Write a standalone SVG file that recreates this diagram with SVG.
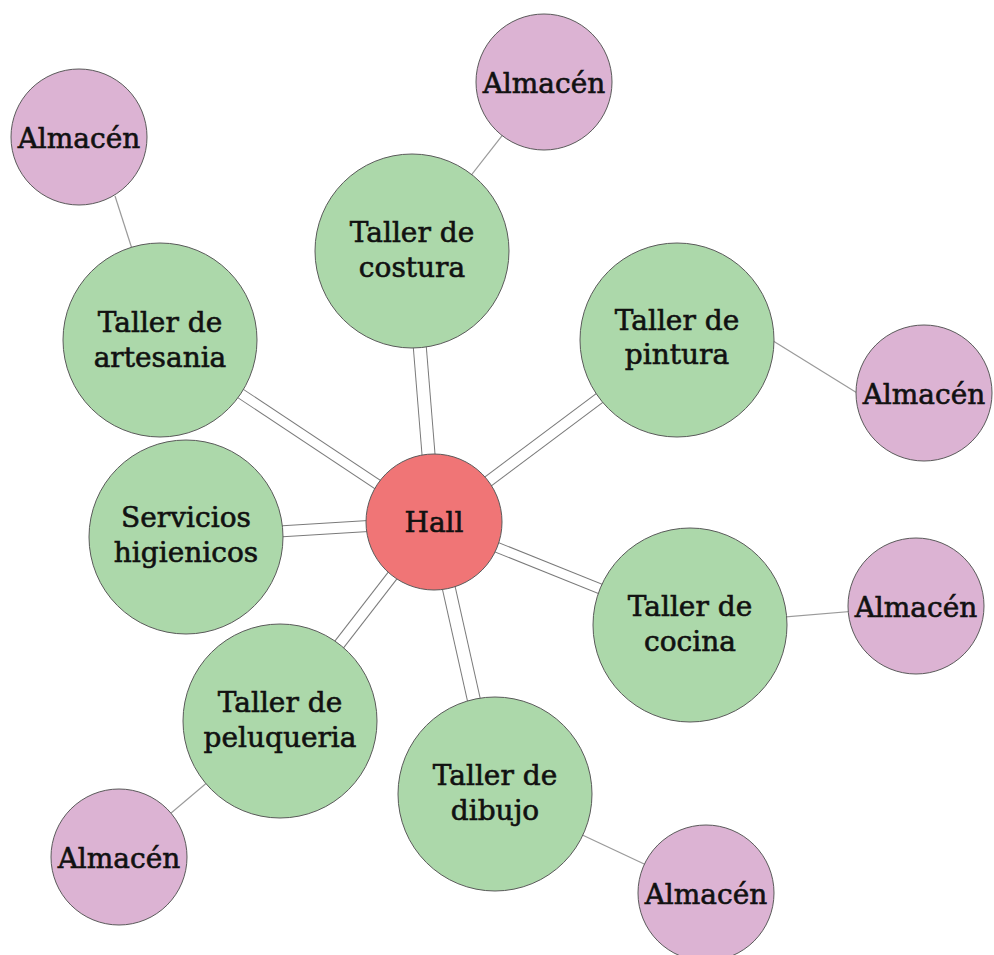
<svg xmlns="http://www.w3.org/2000/svg" width="994" height="955" viewBox="0 0 994 955">
<style>
  .bg { fill: #ffffff; }
  .hall { fill: #f07576; stroke: #5a5a5a; stroke-width: 1; }
  .room { fill: #acd8aa; stroke: #5a5a5a; stroke-width: 1; }
  .store { fill: #dcb3d3; stroke: #5a5a5a; stroke-width: 1; }
  text { font-family: "DejaVu Serif", "Liberation Serif", serif; font-size: 28px; fill: #111; stroke: #111; stroke-width: 0.6; text-anchor: middle; }
  .dbl-out { stroke: #7a7a7a; stroke-width: 12; fill: none; }
  .dbl-in { stroke: #ffffff; stroke-width: 10; fill: none; }
  .single { stroke: #9a9a9a; stroke-width: 1.2; fill: none; }
</style>
<rect class="bg" x="0" y="0" width="994" height="955"/>
<g id="connectors">
  <!-- hall to rooms: double lines -->
  <line class="dbl-out" x1="434" y1="522" x2="412" y2="251" style="stroke-width:14"/>
  <line class="dbl-in" x1="434" y1="522" x2="412" y2="251" style="stroke-width:12"/>
  <line class="dbl-out" x1="434" y1="522" x2="160" y2="340" style="stroke-width:11"/>
  <line class="dbl-in" x1="434" y1="522" x2="160" y2="340" style="stroke-width:9"/>
  <line class="dbl-out" x1="434" y1="522" x2="677" y2="340"/>
  <line class="dbl-in" x1="434" y1="522" x2="677" y2="340"/>
  <line class="dbl-out" x1="434" y1="522" x2="186" y2="537"/>
  <line class="dbl-in" x1="434" y1="522" x2="186" y2="537"/>
  <line class="dbl-out" x1="434" y1="522" x2="690" y2="625" style="stroke-width:11"/>
  <line class="dbl-in" x1="434" y1="522" x2="690" y2="625" style="stroke-width:9"/>
  <line class="dbl-out" x1="434" y1="522" x2="280" y2="721"/>
  <line class="dbl-in" x1="434" y1="522" x2="280" y2="721"/>
  <line class="dbl-out" x1="434" y1="522" x2="495" y2="794" style="stroke-width:14"/>
  <line class="dbl-in" x1="434" y1="522" x2="495" y2="794" style="stroke-width:12"/>
  <!-- rooms to stores: single lines -->
  <line class="single" x1="412" y1="251" x2="544" y2="82"/>
  <line class="single" x1="133" y1="252" x2="115" y2="196"/>
  <line class="single" x1="770" y1="339" x2="862" y2="396"/>
  <line class="single" x1="690" y1="625" x2="916" y2="606"/>
  <line class="single" x1="280" y1="721" x2="119" y2="857"/>
  <line class="single" x1="495" y1="794" x2="706" y2="893"/>
</g>
<g id="hall">
  <circle class="hall" cx="434" cy="522" r="68"/>
  <text x="434" y="532">Hall</text>
</g>
<g id="costura">
  <circle class="room" cx="412" cy="251" r="97"/>
  <text x="412" y="242">Taller de</text>
  <text x="412" y="277">costura</text>
</g>
<g id="artesania">
  <circle class="room" cx="160" cy="340" r="97"/>
  <text x="160" y="332">Taller de</text>
  <text x="160" y="367">artesania</text>
</g>
<g id="pintura">
  <circle class="room" cx="677" cy="340" r="97"/>
  <text x="677" y="330">Taller de</text>
  <text x="677" y="364">pintura</text>
</g>
<g id="servicios">
  <circle class="room" cx="186" cy="537" r="97"/>
  <text x="186" y="527">Servicios</text>
  <text x="186" y="562">higienicos</text>
</g>
<g id="cocina">
  <circle class="room" cx="690" cy="625" r="97"/>
  <text x="690" y="616">Taller de</text>
  <text x="690" y="651">cocina</text>
</g>
<g id="peluqueria">
  <circle class="room" cx="280" cy="721" r="97"/>
  <text x="280" y="712">Taller de</text>
  <text x="280" y="747">peluqueria</text>
</g>
<g id="dibujo">
  <circle class="room" cx="495" cy="794" r="97"/>
  <text x="495" y="785">Taller de</text>
  <text x="495" y="820">dibujo</text>
</g>
<g id="almacen-costura">
  <circle class="store" cx="544" cy="82" r="68"/>
  <text x="544" y="93">Almacén</text>
</g>
<g id="almacen-artesania">
  <circle class="store" cx="79" cy="137" r="68"/>
  <text x="79" y="148">Almacén</text>
</g>
<g id="almacen-pintura">
  <circle class="store" cx="924" cy="393" r="68"/>
  <text x="924" y="404">Almacén</text>
</g>
<g id="almacen-cocina">
  <circle class="store" cx="916" cy="606" r="68"/>
  <text x="916" y="617">Almacén</text>
</g>
<g id="almacen-peluqueria">
  <circle class="store" cx="119" cy="857" r="68"/>
  <text x="119" y="868">Almacén</text>
</g>
<g id="almacen-dibujo">
  <circle class="store" cx="706" cy="893" r="68"/>
  <text x="706" y="904">Almacén</text>
</g>
</svg>
